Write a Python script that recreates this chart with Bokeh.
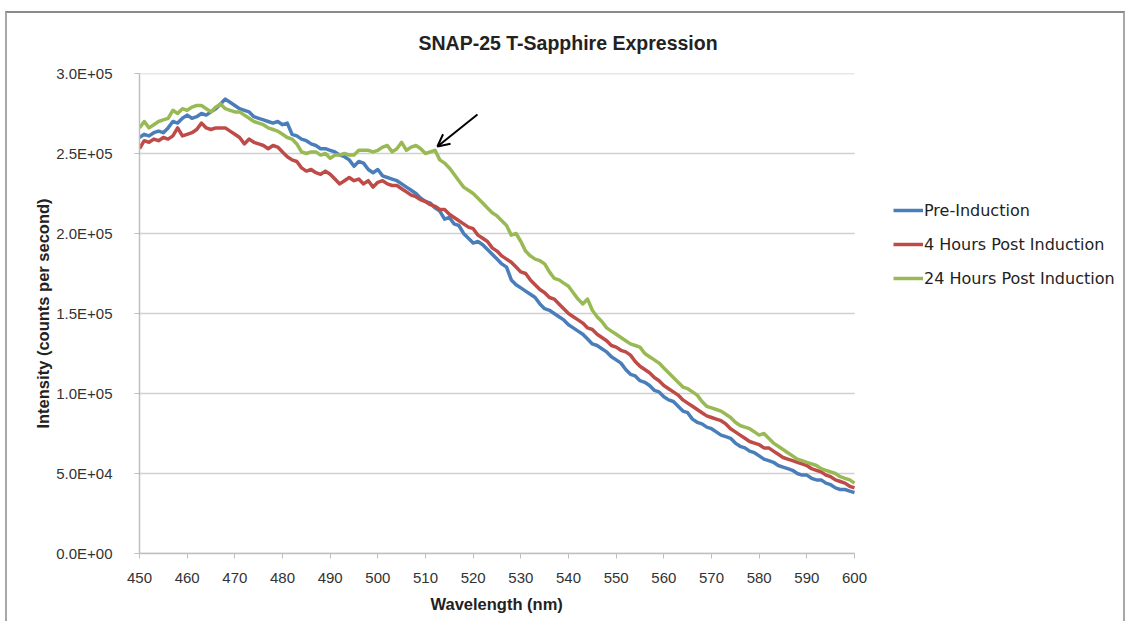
from bokeh.plotting import figure
from bokeh.models import (Range1d, Legend, LegendItem, Arrow, OpenHead, Title,
                          FixedTicker, ColumnDataSource, InlineStyleSheet)
from bokeh.embed import file_html
from bokeh.resources import INLINE

# ---------------- data (intensity in thousands of counts per second) -------------
wavelength = list(range(450, 601))

pre_induction = [
    260, 262, 261, 263, 264, 263, 266, 270, 269, 272,
    274, 272, 273, 275, 274, 276, 278, 281, 284, 282,
    280, 278, 277, 276, 273, 272, 271, 270, 269, 270,
    268, 269, 262, 261, 259, 258, 256, 255, 253, 253,
    252, 251, 249, 248, 246, 242, 245, 244, 240, 238,
    240, 236, 235, 234, 233, 231, 229, 227, 225, 222,
    220, 219, 216, 214, 209, 210, 206, 205, 200, 197,
    194, 195, 193, 190, 187, 184, 181, 179, 171, 168,
    166, 164, 162, 160, 156, 153, 152, 150, 148, 146,
    143, 141, 139, 137, 134, 131, 130, 128, 126, 123,
    121, 119, 115, 112, 111, 108, 107, 105, 102, 101,
    98, 96, 95, 92, 89, 88, 84, 82, 81, 79,
    78, 76, 74, 73, 72, 69, 67, 66, 64, 63,
    61, 59, 58, 57, 55, 54, 53, 52, 50, 49,
    49, 47, 46, 46, 44, 43, 41, 40, 40, 39,
    38]

hours_4 = [
    253, 258, 257, 259, 258, 260, 259, 261, 266, 261,
    262, 263, 265, 269, 266, 265, 266, 266, 266, 264,
    262, 260, 256, 259, 257, 256, 255, 253, 255, 254,
    251, 248, 246, 245, 241, 239, 240, 238, 237, 239,
    237, 234, 231, 233, 235, 233, 234, 231, 233, 229,
    232, 233, 231, 230, 230, 228, 226, 224, 223, 221,
    220, 218, 217, 215, 215, 212, 210, 208, 206, 204,
    203, 199, 197, 195, 191, 189, 186, 184, 182, 179,
    176, 175, 171, 168, 165, 163, 160, 159, 156, 153,
    150, 148, 146, 144, 141, 140, 137, 135, 133, 130,
    129, 127, 126, 124, 120, 117, 115, 113, 110, 108,
    105, 103, 101, 99, 96, 94, 92, 90, 88, 86,
    85, 84, 83, 81, 78, 76, 74, 72, 70, 69,
    68, 66, 66, 64, 62, 60, 59, 58, 57, 56,
    55, 53, 52, 51, 49, 48, 46, 45, 44, 42,
    41]

hours_24 = [
    266, 270, 266, 268, 270, 271, 272, 277, 275, 278,
    277, 279, 280, 280, 278, 276, 279, 281, 278, 277,
    276, 276, 274, 272, 270, 269, 268, 266, 265, 264,
    262, 260, 259, 256, 251, 250, 251, 251, 249, 250,
    247, 249, 249, 250, 249, 249, 252, 252, 252, 251,
    252, 254, 255, 251, 253, 257, 252, 254, 255, 253,
    250, 251, 252, 246, 244, 241, 237, 233, 229, 227,
    225, 222, 219, 216, 213, 211, 208, 205, 199, 200,
    195, 189, 186, 184, 183, 181, 176, 172, 171, 169,
    167, 163, 159, 156, 159, 152, 148, 145, 141, 139,
    137, 135, 133, 131, 130, 129, 125, 123, 121, 119,
    116, 113, 110, 107, 104, 103, 101, 99, 95, 92,
    91, 90, 89, 87, 85, 82, 80, 79, 78, 76,
    74, 75, 72, 69, 67, 65, 63, 61, 59, 58,
    57, 56, 55, 53, 52, 51, 50, 48, 47, 46,
    44]

series_names = ["Pre-Induction", "4 Hours Post Induction", "24 Hours Post Induction"]
series_colors = ["#4a7ebb", "#be4b48", "#98b954"]

x_ticks = list(range(450, 601, 10))
y_ticks = [0, 50000, 100000, 150000, 200000, 250000, 300000]
y_tick_labels = ["0.0E+00", "5.0E+04", "1.0E+05", "1.5E+05", "2.0E+05", "2.5E+05", "3.0E+05"]

arrow_start = (520.9, 274400)
arrow_end = (512.5, 254400)

# ---------------- figure -------------
# The data axis spans 450-600 nm over 715 px; the frame continues to the right
# edge so the legend (drawn inside the frame) is not clipped.
x_min, x_max = x_ticks[0], x_ticks[-1]
frame_px_data = 715
frame_px_total = 1126 - 139
x_view_end = x_min + (x_max - x_min) * frame_px_total / frame_px_data

p = figure(width=1126, height=621, output_backend="svg", toolbar_location=None,
           x_range=Range1d(x_min, x_view_end), y_range=Range1d(0, 300000),
           min_border_left=139, min_border_right=0, min_border_top=73,
           min_border_bottom=68)
p.outline_line_color = None
p.background_fill_color = "white"
p.border_fill_color = "white"

# outer chart border (Excel-style chart area frame)
p.stylesheets = [InlineStyleSheet(css="""
:host::after {
  content: "";
  position: absolute;
  left: 5px; top: 11px; width: 1116px; height: 610px;
  border-top: 2px solid #8a8a8a; border-left: 2px solid #a8a8a8;
  border-right: 2px solid #a8a8a8;
  pointer-events: none;
}
""")]

for ax in (p.xaxis[0], p.yaxis[0]):
    ax.axis_line_color = "#bfbfbf"
    ax.axis_line_width = 1.5
    ax.major_tick_line_color = "#bfbfbf"
    ax.major_tick_in = 0
    ax.major_tick_out = 5
    ax.minor_tick_line_color = None
    ax.major_label_text_font = "Liberation Sans"
    ax.major_label_text_font_size = "15px"
    ax.major_label_text_color = "#333333"
    ax.axis_label_text_font = "Liberation Sans"
    ax.axis_label_text_font_style = "bold"
    ax.axis_label_text_font_size = "16.5px"
    ax.axis_label_text_color = "#222222"

p.xaxis.ticker = FixedTicker(ticks=x_ticks)
p.xaxis.bounds = (x_min, x_max)
p.yaxis.ticker = FixedTicker(ticks=y_ticks)
p.yaxis.major_label_overrides = {t: l for t, l in zip(y_ticks, y_tick_labels)}
p.yaxis.axis_label = "Intensity (counts per second)"
p.xaxis.major_label_standoff = 14
p.yaxis.major_label_standoff = 22
p.yaxis.axis_label_standoff = 1

# x-axis title, centred under the 450-600 span (not the whole frame)
p.add_layout(Title(text="Wavelength (nm)", align="left", offset=291,
                   text_font="Liberation Sans", text_font_style="bold",
                   text_font_size="16.5px", text_color="#222222", standoff=15),
             "below")

p.xgrid.visible = False
p.ygrid.visible = False
# horizontal gridlines limited to the data axis span
p.segment(x0=[x_min] * len(y_ticks), x1=[x_max] * len(y_ticks), y0=y_ticks, y1=y_ticks,
          line_color="#d0d0d0", line_width=1.5, level="underlay")

# title
p.title.text = "SNAP-25 T-Sapphire Expression"
p.title.align = "left"
p.title.offset = 279
p.title.text_font = "Liberation Sans"
p.title.text_font_style = "bold"
p.title.text_font_size = "19.5px"
p.title.text_color = "#222222"
p.title.standoff = 40

items = []
for name, vals, col in zip(series_names, [pre_induction, hours_4, hours_24], series_colors):
    src = ColumnDataSource(dict(x=wavelength, y=[v * 1000 for v in vals]))
    r = p.line("x", "y", source=src, line_color=col, line_width=3.5, line_join="round")
    items.append(LegendItem(label=name, renderers=[r]))

legend = Legend(items=items, location=(754, 265), orientation="vertical")
legend.border_line_color = None
legend.background_fill_alpha = 0
legend.padding = 0
legend.margin = 0
legend.spacing = 14
legend.glyph_width = 30
legend.glyph_height = 20
legend.label_standoff = 1
legend.label_text_font = "DejaVu Sans"
legend.label_text_font_size = "16px"
legend.label_text_color = "#222222"
p.add_layout(legend, "center")

p.add_layout(Arrow(x_start=arrow_start[0], y_start=arrow_start[1],
                   x_end=arrow_end[0], y_end=arrow_end[1],
                   line_color="black", line_width=2,
                   end=OpenHead(size=12, line_color="black", line_width=2)))

open("out.html", "w").write(file_html(p, INLINE))
